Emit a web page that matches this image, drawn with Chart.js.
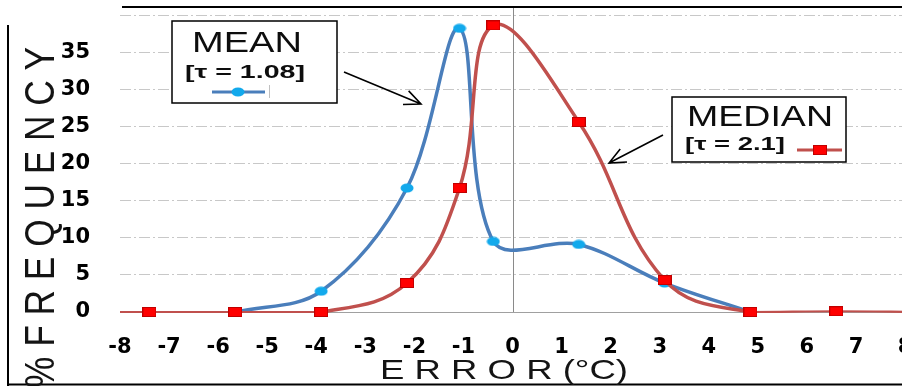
<!DOCTYPE html>
<html>
<head>
<meta charset="utf-8">
<script src="https://cdn.jsdelivr.net/npm/chart.js@4.4.1/dist/chart.umd.min.js"></script>
<style>
html, body { margin: 0; padding: 0; background: #fff; overflow: hidden; }
#wrap { width: 902px; height: 386px; overflow: hidden; }
</style>
</head>
<body>
<div id="wrap"><canvas id="myChart" width="920" height="386"></canvas></div>
<script>
// error bins (deg C) and % frequency
const meanX = [-5.65, -3.9, -2.15, -1.08, -0.39, 1.35, 3.1, 4.85];
const meanY = [0, 2.8, 16.7, 38.2, 9.5, 9.1, 3.9, 0];
const medianX = [-9.15, -7.4, -5.65, -3.9, -2.15, -1.08, -0.39, 1.35, 3.1, 4.85, 6.6, 8.35];
const medianY = [0, 0, 0, 0, 3.9, 16.7, 38.6, 25.6, 4.3, 0, 0.1, 0];
const yTicks = [0, 5, 10, 15, 20, 25, 30, 35];

const xTitle = 'E R R O R (°C)';
const yTitle = '% F R E Q U E N C Y';
const meanLabel = 'MEAN';
const meanTau = '[τ = 1.08]';
const medianLabel = 'MEDIAN';
const medianTau = '[τ = 2.1]';

const blueLine = '#4A7EBB';
const blueDot = '#12A9EC';
const redLine = '#C0504D';
const redDot = '#FF0000';

function ellipseMarker(w, h, fill) {
    let c = document.createElement('canvas');
    c.width = w; c.height = h;
    let g = c.getContext('2d');
    g.fillStyle = fill;
    g.beginPath();
    g.ellipse(w / 2, h / 2, w / 2 - 0.5, h / 2 - 0.5, 0, 0, Math.PI * 2);
    g.fill();
    return c;
}

function squareMarker(w, h, fill, stroke) {
    let c = document.createElement('canvas');
    c.width = w; c.height = h;
    let g = c.getContext('2d');
    g.fillStyle = fill;
    g.fillRect(0, 0, w, h);
    g.strokeStyle = stroke;
    g.lineWidth = 1;
    g.strokeRect(0.5, 0.5, w - 1, h - 1);
    return c;
}

const dotImg = ellipseMarker(14, 10, blueDot);
const squareImg = squareMarker(14, 10, redDot, '#C00000');

function toPoints(xs, ys) {
    return xs.map((x, i) => ({x: x, y: ys[i]}));
}

// flat runs along zero look thinner in the picture
function segWidth(c) {
    return (c.p0.parsed.y < 0.5 && c.p1.parsed.y < 0.5) ? 2.2 : 3.5;
}

// text in the picture is wider than the font, so stretch to a width
function stretchText(ctx, text, x, y, font, width) {
    ctx.save();
    ctx.font = font;
    let w = ctx.measureText(text).width;
    ctx.translate(x, y);
    ctx.scale(width / w, 1);
    ctx.textAlign = 'left';
    ctx.textBaseline = 'alphabetic';
    ctx.fillText(text, 0, 0);
    ctx.restore();
}

function arrow(ctx, x1, y1, x2, y2) {
    let a = Math.atan2(y2 - y1, x2 - x1), L = 18, sp = 0.42;
    ctx.beginPath();
    ctx.moveTo(x1, y1);
    ctx.lineTo(x2, y2);
    ctx.moveTo(x2 - L * Math.cos(a - sp), y2 - L * Math.sin(a - sp));
    ctx.lineTo(x2, y2);
    ctx.lineTo(x2 - L * Math.cos(a + sp), y2 - L * Math.sin(a + sp));
    ctx.stroke();
}

const extras = {
    id: 'extras',
    beforeDatasetsDraw(chart) {
        let ctx = chart.ctx, area = chart.chartArea;
        let x0 = Math.round(chart.scales.x.getPixelForValue(0)) + 0.5;
        ctx.save();
        ctx.strokeStyle = '#8a8a8a';
        ctx.lineWidth = 1;
        ctx.beginPath();
        ctx.moveTo(x0, 7);
        ctx.lineTo(x0, area.bottom);
        ctx.stroke();
        ctx.restore();
    },
    afterDatasetsDraw(chart) {
        let ctx = chart.ctx;
        ctx.save();

        // outer frame pieces
        ctx.strokeStyle = '#000';
        ctx.lineWidth = 2;
        ctx.beginPath();
        ctx.moveTo(122, 7); ctx.lineTo(920, 7);
        ctx.moveTo(8, 25); ctx.lineTo(8, 386);
        ctx.moveTo(8, 384.5); ctx.lineTo(920, 384.5);
        ctx.stroke();

        // MEAN box
        ctx.fillStyle = '#fff';
        ctx.fillRect(172, 21, 165, 82);
        ctx.lineWidth = 1.5;
        ctx.strokeRect(172, 21, 165, 82);
        ctx.fillStyle = '#0d0d0d';
        stretchText(ctx, meanLabel, 192, 52, '29px "Liberation Sans"', 110);
        stretchText(ctx, meanTau, 185, 78, 'bold 19px "Liberation Sans"', 120);
        ctx.strokeStyle = blueLine;
        ctx.lineWidth = 3;
        ctx.beginPath(); ctx.moveTo(212, 92); ctx.lineTo(265, 92); ctx.stroke();
        ctx.drawImage(dotImg, 238 - 7, 92 - 5);
        ctx.strokeStyle = '#c0c0c0';
        ctx.lineWidth = 1;
        ctx.beginPath(); ctx.moveTo(269.5, 85); ctx.lineTo(269.5, 98); ctx.stroke();

        // MEDIAN box
        ctx.fillStyle = '#fff';
        ctx.fillRect(672, 97, 174, 65);
        ctx.strokeStyle = '#000';
        ctx.lineWidth = 1.5;
        ctx.strokeRect(672, 97, 174, 65);
        ctx.fillStyle = '#0d0d0d';
        stretchText(ctx, medianLabel, 687, 126, '29px "Liberation Sans"', 146);
        stretchText(ctx, medianTau, 685, 150, 'bold 19px "Liberation Sans"', 100);
        ctx.strokeStyle = redLine;
        ctx.lineWidth = 3;
        ctx.beginPath(); ctx.moveTo(797, 150); ctx.lineTo(842, 150); ctx.stroke();
        ctx.drawImage(squareImg, 820 - 7, 150 - 5);

        // arrows
        ctx.strokeStyle = '#000';
        ctx.lineWidth = 1.6;
        arrow(ctx, 344, 72, 421, 104);
        arrow(ctx, 663, 135, 609, 163);

        // axis titles
        ctx.fillStyle = '#141414';
        stretchText(ctx, xTitle, 380, 379, '28px "Liberation Sans"', 248);
        ctx.save();
        ctx.translate(54, 47);
        ctx.rotate(-Math.PI / 2);
        ctx.scale(0.82, 1);
        ctx.font = '43px "Liberation Sans"';
        ctx.textAlign = 'right';
        ctx.textBaseline = 'alphabetic';
        ctx.fillText(yTitle, 0, 0);
        ctx.restore();

        ctx.restore();
    }
};

let myChart = document.getElementById('myChart').getContext('2d');
let errorChart = new Chart(myChart, {
    type: 'line',
    data: {
        datasets: [{
            label: 'MEDIAN',
            data: toPoints(medianX, medianY),
            borderColor: redLine,
            borderWidth: 3.5,
            segment: {borderWidth: segWidth},
            tension: 0.4,
            pointStyle: squareImg,
            pointRadius: 6,
            order: 0,
            clip: {left: 0, top: 10, right: 0, bottom: 10}
        }, {
            label: 'MEAN',
            data: toPoints(meanX, meanY),
            borderColor: blueLine,
            borderWidth: 3.5,
            tension: 0.35,
            pointStyle: dotImg,
            pointRadius: 6,
            order: 1,
            clip: {left: 0, top: 10, right: 0, bottom: 10}
        }]
    },
    plugins: [extras],
    options: {
        responsive: false,
        animation: false,
        layout: {padding: {left: 0, right: 15, top: 15, bottom: 0}},
        plugins: {legend: {display: false}, tooltip: {enabled: false}},
        scales: {
            x: {
                type: 'linear',
                min: -8,
                max: 8,
                afterFit: s => {
                    s.height = 74;
                    s.paddingLeft = 0;
                    s.paddingRight = 0;
                },
                ticks: {
                    stepSize: 1,
                    autoSkip: false,
                    maxRotation: 0,
                    padding: 23,
                    color: '#000',
                    font: {family: 'DejaVu Sans', weight: 'bold', size: 21}
                },
                grid: {display: false, drawTicks: false},
                border: {display: true, color: '#a0a0a0', width: 1}
            },
            y: {
                min: 0,
                max: 40,
                afterFit: s => {
                    s.width = 120;
                    s.paddingTop = 0;
                    s.paddingBottom = 0;
                },
                ticks: {
                    stepSize: 5,
                    padding: 30,
                    color: '#000',
                    font: {family: 'DejaVu Sans', weight: 'bold', size: 21},
                    callback: v => yTicks.includes(v) ? String(v) : ''
                },
                grid: {
                    drawTicks: false,
                    color: c => c.tick && c.tick.value === 0 ? 'rgba(0,0,0,0)' : '#c8c8c8'
                },
                border: {display: false, dash: [11, 3, 2, 3]}
            }
        }
    }
});
</script>
</body>
</html>
